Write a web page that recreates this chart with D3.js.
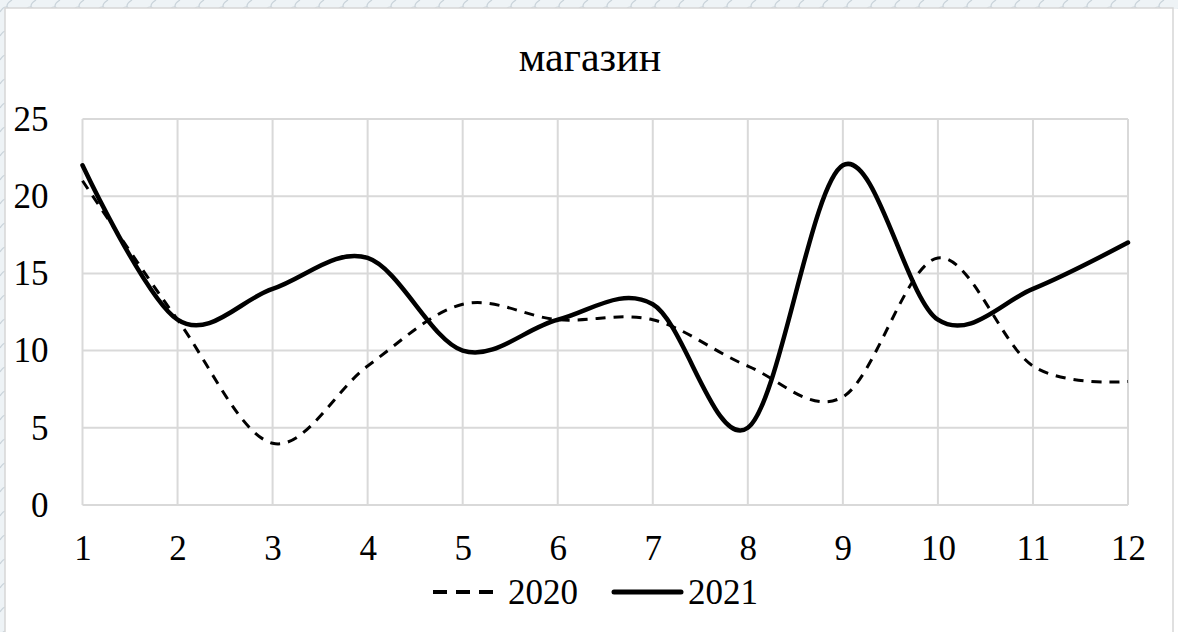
<!DOCTYPE html>
<html>
<head>
<meta charset="utf-8">
<script src="https://cdn.jsdelivr.net/npm/d3@7"></script>
<style>
  body { margin: 0; background: #fff; }
  svg { display: block; }
  svg text { font-family: "Liberation Serif", "DejaVu Serif", serif !important; fill: #000; }
</style>
</head>
<body>
<div id="chart"></div>
<script>
// chart data
var months = [1, 2, 3, 4, 5, 6, 7, 8, 9, 10, 11, 12];
var values2020 = [21, 12, 4, 9, 13, 12, 12, 9, 7, 16, 9, 8];
var values2021 = [22, 12, 14, 16, 10, 12, 13, 5, 22, 12, 14, 17];
var yTicks = [0, 5, 10, 15, 20, 25];
var seriesNames = ["2020", "2021"];
var chartTitle = "магазин";

var svgWidth = 1178;
var svgHeight = 632;

var margin = { top: 119, right: 50, bottom: 127, left: 82.5 };
var chartWidth = svgWidth - margin.left - margin.right;
var chartHeight = svgHeight - margin.top - margin.bottom;

var svg = d3.select("#chart")
  .append("svg")
  .attr("width", svgWidth)
  .attr("height", svgHeight);

// decorative lace border behind the chart frame
var defs = svg.append("defs");
var pat = defs.append("pattern")
  .attr("id", "lace")
  .attr("width", 24)
  .attr("height", 24)
  .attr("patternUnits", "userSpaceOnUse");
pat.append("rect").attr("width", 24).attr("height", 24).attr("fill", "#eef3f6");
pat.append("path")
  .attr("d", "M0,12 Q6,2 12,12 T24,12 M12,0 Q2,6 12,12 T12,24")
  .attr("fill", "none")
  .attr("stroke", "#c9d3da")
  .attr("stroke-width", 1.2);

svg.append("rect")
  .attr("width", svgWidth)
  .attr("height", svgHeight)
  .attr("fill", "url(#lace)");

svg.append("rect")
  .attr("x", 1173)
  .attr("y", 9)
  .attr("width", 5)
  .attr("height", svgHeight)
  .attr("fill", "#fff");

svg.append("rect")
  .attr("x", 5)
  .attr("y", 8)
  .attr("width", 1168)
  .attr("height", svgHeight + 10)
  .attr("fill", "#fff")
  .attr("stroke", "#d6d6d6")
  .attr("stroke-width", 1.5);

var chartGroup = svg.append("g")
  .attr("transform", `translate(${margin.left}, ${margin.top})`);

// scales
var xScale = d3.scaleLinear()
  .domain([1, 12])
  .range([0, chartWidth]);

var yScale = d3.scaleLinear()
  .domain([0, 25])
  .range([chartHeight, 0]);

// gridlines
chartGroup.append("g")
  .selectAll("line")
  .data(yTicks)
  .enter()
  .append("line")
  .attr("x1", 0)
  .attr("x2", chartWidth)
  .attr("y1", d => yScale(d))
  .attr("y2", d => yScale(d))
  .attr("stroke", "#d9d9d9")
  .attr("stroke-width", 2);

chartGroup.append("g")
  .selectAll("line")
  .data(months)
  .enter()
  .append("line")
  .attr("x1", d => xScale(d))
  .attr("x2", d => xScale(d))
  .attr("y1", 0)
  .attr("y2", chartHeight)
  .attr("stroke", "#d9d9d9")
  .attr("stroke-width", 2);

// axes (labels only)
var bottomAxis = d3.axisBottom(xScale)
  .tickValues(months)
  .tickFormat(d3.format("d"))
  .tickSize(0)
  .tickPadding(30);

var leftAxis = d3.axisLeft(yScale)
  .tickValues(yTicks)
  .tickSize(0)
  .tickPadding(34);

var xAxisG = chartGroup.append("g")
  .attr("transform", `translate(0, ${chartHeight})`)
  .call(bottomAxis);

var yAxisG = chartGroup.append("g")
  .call(leftAxis);

[xAxisG, yAxisG].forEach(function(g) {
  g.attr("font-family", null).attr("font-size", null);
  g.select(".domain").remove();
  g.selectAll("text").style("font-size", "35px");
});

// lines
var line = d3.line()
  .x((d, i) => xScale(months[i]))
  .y(d => yScale(d))
  .curve(d3.curveCatmullRom.alpha(0));

chartGroup.append("path")
  .datum(values2020)
  .attr("d", line)
  .attr("fill", "none")
  .attr("stroke", "#000")
  .attr("stroke-width", 3)
  .attr("stroke-dasharray", "10,8");

chartGroup.append("path")
  .datum(values2021)
  .attr("d", line)
  .attr("fill", "none")
  .attr("stroke", "#000")
  .attr("stroke-width", 4.5)
  .attr("stroke-linecap", "round");

// title
svg.append("text")
  .attr("x", 590)
  .attr("y", 71)
  .attr("text-anchor", "middle")
  .style("font-size", "42px")
  .text(chartTitle);

// legend
var legend = svg.append("g").attr("transform", "translate(0, 592)");

legend.append("line")
  .attr("x1", 433).attr("x2", 494)
  .attr("stroke", "#000")
  .attr("stroke-width", 4)
  .attr("stroke-dasharray", "14,9");

legend.append("text")
  .attr("x", 508).attr("y", 12)
  .style("font-size", "35px")
  .text(seriesNames[0]);

legend.append("line")
  .attr("x1", 614).attr("x2", 681)
  .attr("stroke", "#000")
  .attr("stroke-width", 5)
  .attr("stroke-linecap", "round");

legend.append("text")
  .attr("x", 688).attr("y", 12)
  .style("font-size", "35px")
  .text(seriesNames[1]);
</script>
</body>
</html>
